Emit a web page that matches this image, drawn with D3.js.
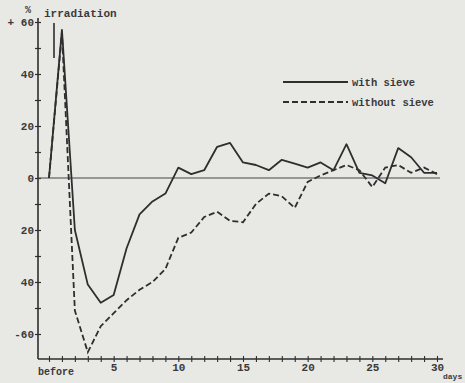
<!DOCTYPE html>
<html>
<head>
<meta charset="utf-8">
<script src="https://cdn.jsdelivr.net/npm/d3@7"></script>
<style>
  html, body { margin: 0; padding: 0; background: #e8e8e5; }
  svg { display: block; }
  text { font-family: "Liberation Mono", "DejaVu Sans Mono", monospace; fill: #3a3a3a; }
</style>
</head>
<body>
<svg id="chart"></svg>
<script>
// days after irradiation (0 = before)
const days = d3.range(0, 31)
const withSieve = [0, 57, -20, -41, -48, -45, -27, -14, -9, -6, 4, 1.5, 3, 12, 13.5, 6, 5, 3, 7, 5.5, 4, 6, 3, 13, 2, 1, -2, 11.5, 8, 2, 2]
const withoutSieve = [0, 56, -51, -67, -57, -52, -47, -43, -40, -35, -23, -21, -15, -13, -16.5, -17, -10, -6, -7, -11.5, -1.5, 1, 3, 5, 3, -3.5, 4, 5, 2, 4, 1.5]
const yTicks = [60, 50, 40, 30, 20, 10, 0, -10, -20, -30, -40, -50, -60]
const yLabels = { 60: '+ 60', 40: '40', 20: '20', 0: '0', '-20': '20', '-40': '40', '-60': '-60' }
const xLabels = [5, 10, 15, 20, 25, 30]

const width = 465, height = 383
const ink = '#2e2e2e'

const svg = d3.select('#chart').attr('width', width).attr('height', height)

const x = d3.scaleLinear().domain([0, 30]).range([49, 437])
const y = d3.scaleLinear().domain([0, 60]).range([178, 22])
const axisX = 38, axisBottom = y(-69.6)

// y axis
const gy = svg.append('g').attr('transform', `translate(${axisX},0)`)
    .call(d3.axisLeft(y).tickValues(yTicks).tickSize(3).tickFormat(d => yLabels[d] || ''))
gy.select('.domain').remove()
gy.selectAll('.tick line').attr('x1', 3).attr('x2', -3).attr('stroke', ink).attr('stroke-width', 1.2)
gy.selectAll('.tick text').attr('x', -4).attr('font-size', 11).attr('font-family', 'Liberation Mono')
    .attr('fill', '#3a3a3a').attr('font-weight', 'bold')
svg.append('line').attr('x1', axisX).attr('x2', axisX).attr('y1', 18).attr('y2', axisBottom)
    .attr('stroke', ink).attr('stroke-width', 1.6)

// x axis
const gx = svg.append('g').attr('transform', `translate(0,${axisBottom})`)
    .call(d3.axisBottom(x).tickValues(days).tickSize(3).tickFormat(d => xLabels.includes(d) ? d : ''))
gx.select('.domain').remove()
gx.selectAll('.tick line').attr('y1', -3).attr('y2', 3).attr('stroke', ink).attr('stroke-width', 1.1)
gx.selectAll('.tick text').attr('y', 4).attr('font-size', 11).attr('font-family', 'Liberation Mono')
    .attr('fill', '#3a3a3a').attr('font-weight', 'bold')
svg.append('line').attr('x1', axisX).attr('x2', 443).attr('y1', axisBottom).attr('y2', axisBottom)
    .attr('stroke', ink).attr('stroke-width', 1.6)

svg.append('text').attr('x', 38).attr('y', axisBottom + 16).attr('font-size', 10).attr('font-weight', 'bold').text('before')
svg.append('text').attr('x', 443).attr('y', 379).attr('font-size', 8).attr('font-weight', 'bold').text('days')

// zero line
svg.append('line').attr('x1', axisX).attr('x2', 440).attr('y1', y(0)).attr('y2', y(0))
    .attr('stroke', '#444').attr('stroke-width', 1.1)

// % and irradiation marker
svg.append('text').attr('x', 25).attr('y', 13).attr('font-size', 10).attr('font-weight', 'bold').text('%')
svg.append('text').attr('x', 44).attr('y', 17).attr('font-size', 11).attr('font-weight', 'bold').text('irradiation')
svg.append('line').attr('x1', 54).attr('x2', 54).attr('y1', 23).attr('y2', 58)
    .attr('stroke', ink).attr('stroke-width', 1.6)

// series
const line = d3.line().x((d, i) => x(days[i])).y(d => y(d))
svg.append('path').datum(withSieve).attr('d', line)
    .attr('fill', 'none').attr('stroke', ink).attr('stroke-width', 1.8).attr('stroke-linejoin', 'round')
svg.append('path').datum(withoutSieve).attr('d', line)
    .attr('fill', 'none').attr('stroke', ink).attr('stroke-width', 1.8).attr('stroke-dasharray', '6,3')

// legend
const legend = svg.append('g')
legend.append('line').attr('x1', 283).attr('x2', 348).attr('y1', 82).attr('y2', 82)
    .attr('stroke', ink).attr('stroke-width', 1.8)
legend.append('text').attr('x', 352).attr('y', 86).attr('font-size', 10.5).attr('font-weight', 'bold').text('with sieve')
legend.append('line').attr('x1', 283).attr('x2', 348).attr('y1', 102).attr('y2', 102)
    .attr('stroke', ink).attr('stroke-width', 1.8).attr('stroke-dasharray', '6,3')
legend.append('text').attr('x', 352).attr('y', 106).attr('font-size', 10.5).attr('font-weight', 'bold').text('without sieve')
</script>
</body>
</html>
